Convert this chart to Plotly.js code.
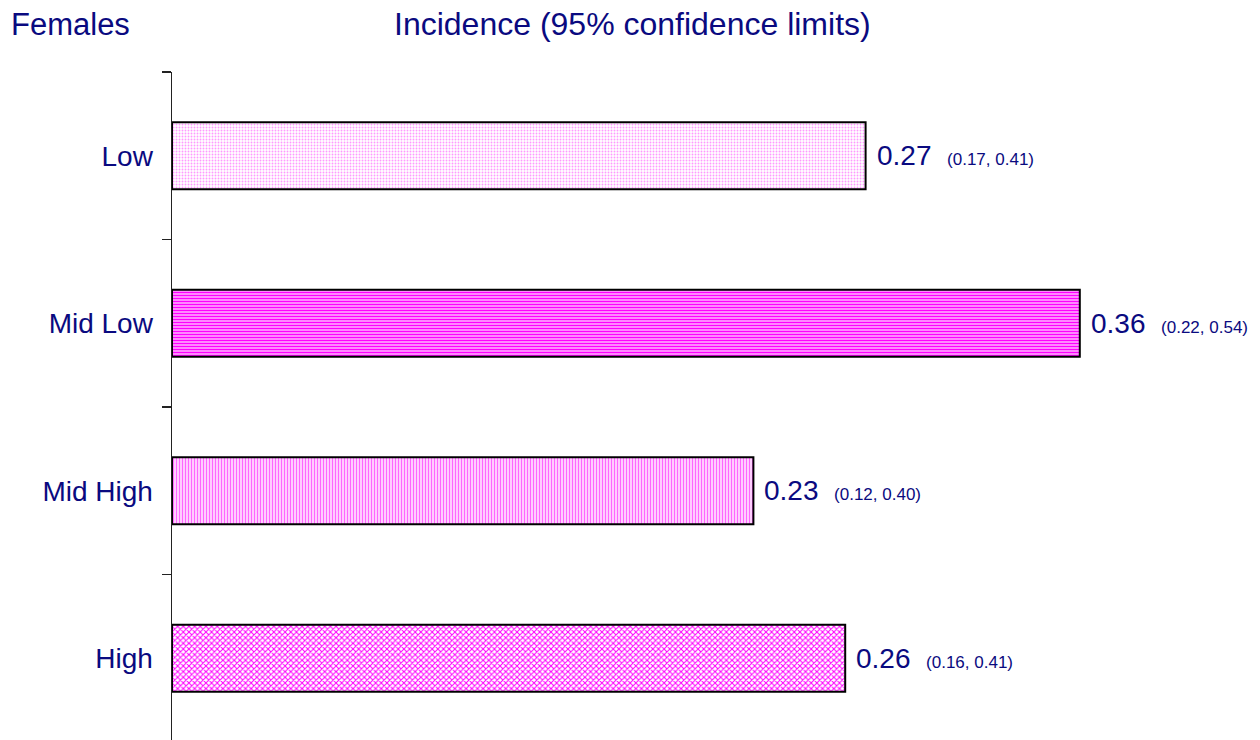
<!DOCTYPE html>
<html>
<head>
<meta charset="utf-8">
<script src="https://cdn.plot.ly/plotly-3.0.1.min.js"></script>
<style>html,body{margin:0;padding:0;background:#fff;overflow:hidden}#chart{width:1260px;height:740px}</style>
</head>
<body>
<div id="chart"></div>
<script>
// Data
var categories = ["Low", "Mid Low", "Mid High", "High"];
var incidence = [0.272, 0.356, 0.228, 0.264];
var valueLabels = ["0.27", "0.36", "0.23", "0.26"];
var lowerCI = ["0.17", "0.22", "0.12", "0.16"];
var upperCI = ["0.41", "0.54", "0.40", "0.41"];

// Styles
var navy = "#0A0A80";
var FONT = "Liberation Sans, Arial, sans-serif";
var patternShapes = [".", "-", "|", "x"];
var patternFg = ["#FF99FF", "#FF00FF", "#FF66FF", "#FF00FF"];
var patternBg = ["#FFFFFF", "#FFB3FF", "#FFFFFF", "#FFFFFF"];
var patternSize = [3, 3, 3, 4];
var patternSolidity = [0.3, 0.5, 0.55, 0.45];

var traces = categories.map(function (c, i) {
  return {
    type: "bar",
    orientation: "h",
    y: [c],
    x: [incidence[i]],
    width: 0.4,
    marker: {
      color: patternBg[i],
      line: {color: "#000000", width: 2},
      pattern: {
        shape: patternShapes[i],
        fgcolor: patternFg[i],
        bgcolor: patternBg[i],
        size: patternSize[i],
        solidity: patternSolidity[i],
        fgopacity: 1,
        fillmode: "replace"
      }
    },
    hoverinfo: "skip"
  };
});

var annotations = categories.map(function (c, i) {
  return {
    x: incidence[i], y: c, xref: "x", yref: "y",
    xanchor: "left", yanchor: "middle", xshift: 9, yshift: 0,
    showarrow: false,
    text: valueLabels[i] + "\u00a0\u00a0<span style='font-size:17px'>(" + lowerCI[i] + ", " + upperCI[i] + ")</span>",
    font: {family: FONT, size: 28, color: navy}
  };
});
var px2x = function (px) { return (px - 172) / 1088; };
var py2y = function (py) { return (740 - py) / 668; };
annotations.push({
  xref: "paper", yref: "paper", x: px2x(9), y: py2y(24),
  xanchor: "left", yanchor: "middle", showarrow: false,
  text: "Females",
  font: {family: FONT, size: 31, color: navy}
});
annotations.push({
  xref: "paper", yref: "paper", x: px2x(632), y: py2y(24),
  xanchor: "center", yanchor: "middle", showarrow: false,
  text: "Incidence (95% confidence limits)",
  font: {family: FONT, size: 32, color: navy}
});

var layout = {
  width: 1260, height: 740,
  margin: {l: 172, r: 0, t: 72, b: 0},
  paper_bgcolor: "#FFFFFF", plot_bgcolor: "#FFFFFF",
  showlegend: false,
  barmode: "overlay",
  xaxis: {visible: false, range: [0, 1088 / 2550], fixedrange: true},
  yaxis: {
    type: "category",
    categoryorder: "array", categoryarray: categories,
    range: [3.488, -0.5],
    showline: true, linecolor: "#222222", linewidth: 1.5,
    ticks: "outside", ticklen: 9, tickcolor: "#222222", tickwidth: 1.5,
    tickson: "boundaries",
    showgrid: false, zeroline: false,
    ticklabelstandoff: 12,
    tickfont: {family: FONT, size: 28, color: navy},
    fixedrange: true
  },
  annotations: annotations
};

Plotly.newPlot("chart", traces, layout, {displayModeBar: false, staticPlot: true});
</script>
</body>
</html>
